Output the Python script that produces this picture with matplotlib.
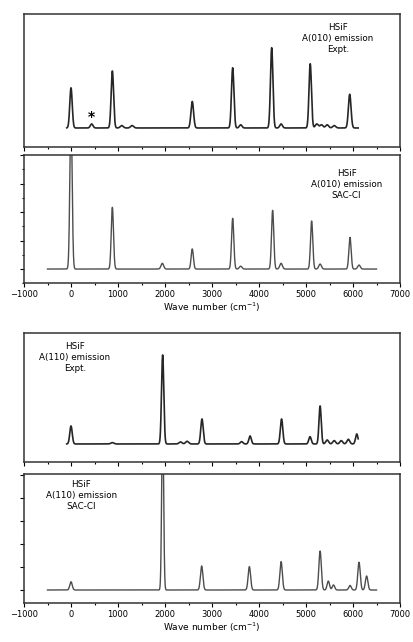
import numpy as np
import matplotlib
matplotlib.use('Agg')
import matplotlib.pyplot as plt
from matplotlib.ticker import MultipleLocator

# peak lists: centre (cm-1), height, gaussian sigma (cm-1)
a010_expt_pos = [0, 440, 880, 1080, 1300, 2580, 3440, 3610, 4270, 4470, 5090, 5230, 5330, 5450, 5600, 5930]
a010_expt_h = [0.50, 0.05, 0.71, 0.03, 0.03, 0.33, 0.75, 0.04, 1.00, 0.05, 0.80, 0.05, 0.04, 0.04, 0.03, 0.42]
a010_expt_w = [26, 28, 26, 32, 32, 28, 26, 28, 26, 28, 26, 32, 32, 32, 32, 28]
a010_expt_range = (-90, 6110)

a010_sac_pos = [0, 880, 1943, 2580, 3440, 3610, 4290, 4470, 5120, 5300, 5936, 6128]
a010_sac_h = [11.0, 4.33, 0.40, 1.41, 3.56, 0.20, 4.12, 0.40, 3.37, 0.35, 2.22, 0.28]
a010_sac_w = [24, 24, 28, 24, 24, 28, 24, 28, 24, 28, 24, 28]
a010_sac_range = (-500, 6500)

a110_expt_pos = [0, 880, 1950, 2330, 2470, 2787, 3630, 3810, 4480, 5085, 5300, 5450, 5600, 5750, 5900, 6080]
a110_expt_h = [0.54, 0.04, 2.67, 0.06, 0.08, 0.75, 0.07, 0.24, 0.75, 0.22, 1.14, 0.12, 0.10, 0.10, 0.14, 0.30]
a110_expt_w = [26, 32, 24, 32, 32, 26, 28, 26, 26, 26, 24, 30, 30, 30, 30, 26]
a110_expt_range = (-90, 6110)

a110_sac_pos = [0, 1950, 2780, 3795, 4470, 5300, 5475, 5585, 5936, 6128, 6290]
a110_sac_h = [0.36, 8.0, 1.05, 1.02, 1.24, 1.70, 0.39, 0.22, 0.20, 1.21, 0.61]
a110_sac_w = [26, 20, 26, 26, 26, 26, 26, 26, 26, 26, 26]
a110_sac_range = (-500, 6500)

labels = ['HSiF\nA(010) emission\nExpt.', 'HSiF\nA(010) emission\nSAC-CI',
          'HSiF\nA(110) emission\nExpt.', 'HSiF\nA(110) emission\nSAC-CI']


def spectrum(pos, h, w, rng):
    x = np.linspace(rng[0], rng[1], 4000)
    y = np.zeros_like(x)
    for p, a, s in zip(pos, h, w):
        y += a * np.exp(-0.5 * ((x - p) / s) ** 2)
    return x, y


fig = plt.figure(figsize=(4.13, 6.42), dpi=100)
W, H = 413, 642
boxes = [(14, 147), (155, 283.3), (333.3, 462.3), (474, 603.3)]
axs = [fig.add_axes([24 / W, 1 - b / H, 376 / W, (b - t) / H]) for t, b in boxes]

data = [
    (a010_expt_pos, a010_expt_h, a010_expt_w, a010_expt_range, '#262626', 1.2, (-0.237, 1.42)),
    (a010_sac_pos, a010_sac_h, a010_sac_w, a010_sac_range, '#4d4d4d', 1.0, (-1.0, 8.0)),
    (a110_expt_pos, a110_expt_h, a110_expt_w, a110_expt_range, '#262626', 1.2, (-0.55, 3.32)),
    (a110_sac_pos, a110_sac_h, a110_sac_w, a110_sac_range, '#4d4d4d', 1.0, (-0.58, 5.06)),
]

for ax, (pos, h, w, rng, col, lw, yl) in zip(axs, data):
    x, y = spectrum(pos, h, w, rng)
    ax.plot(x, y, color=col, lw=lw)
    ax.set_xlim(-1000, 7000)
    ax.set_ylim(*yl)
    ax.xaxis.set_major_locator(MultipleLocator(1000))
    ax.xaxis.set_minor_locator(MultipleLocator(500))
    ax.tick_params(axis='x', which='major', direction='out', length=3, width=0.8, labelsize=6, pad=2)
    ax.tick_params(axis='x', which='minor', direction='out', length=1.5, width=0.8)
    ax.tick_params(axis='y', labelleft=False)
    for sp in ax.spines.values():
        sp.set_linewidth(1.1)
        sp.set_color('#333333')

# experimental panels: no y ticks, no x labels
for ax in (axs[0], axs[2]):
    ax.set_yticks([])
    ax.tick_params(axis='x', labelbottom=False)

axs[1].yaxis.set_major_locator(MultipleLocator(2))
axs[1].yaxis.set_minor_locator(MultipleLocator(1))
axs[3].yaxis.set_major_locator(MultipleLocator(1))
for ax in (axs[1], axs[3]):
    ax.tick_params(axis='y', which='major', direction='out', length=3, width=0.8)
    ax.tick_params(axis='y', which='minor', direction='out', length=1.5, width=0.8)
    ax.set_xlabel('Wave number (cm$^{-1}$)', fontsize=6.5, labelpad=1)

# star marking the weak band
axs[0].text(440, 0.14, '*', ha='center', va='center', fontsize=10, fontweight='bold')

# panel labels
axs[0].text(0.835, 0.93, labels[0], transform=axs[0].transAxes, ha='center', va='top',
            fontsize=6.3, linespacing=1.25)
axs[1].text(0.858, 0.89, labels[1], transform=axs[1].transAxes, ha='center', va='top',
            fontsize=6.3, linespacing=1.25)
axs[2].text(0.135, 0.93, labels[2], transform=axs[2].transAxes, ha='center', va='top',
            fontsize=6.3, linespacing=1.25)
axs[3].text(0.152, 0.95, labels[3], transform=axs[3].transAxes, ha='center', va='top',
            fontsize=6.3, linespacing=1.25)

fig.savefig('out.png', dpi=100)
